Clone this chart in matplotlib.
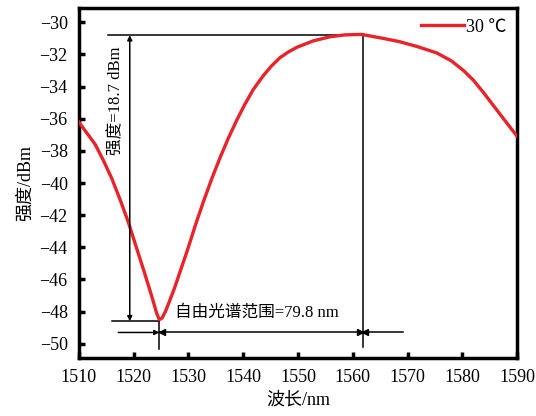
import numpy as np
import matplotlib
matplotlib.use("Agg")
import matplotlib.pyplot as plt

plt.rcParams['font.family'] = ['Liberation Serif', 'Noto Sans CJK SC', 'DejaVu Sans']
plt.rcParams['axes.unicode_minus'] = True

# spectrum (wavelength nm, power dBm)
wavelength = [1510, 1511.5, 1513, 1514.5, 1516, 1517.5, 1519, 1520.5, 1522, 1523,
              1523.7, 1524.2, 1524.7, 1525.2, 1525.8, 1526.5, 1527.4, 1528.3,
              1529.8, 1531.3, 1532.8, 1534.3, 1535.8, 1537.3, 1538.8, 1540.3,
              1541.8, 1543.7, 1545.2, 1546.7, 1548.2, 1549.8, 1552.8, 1555.8,
              1558.5, 1561.6, 1565.6, 1568.5, 1571.7, 1575.3, 1578, 1580.2,
              1582, 1583.8, 1585.7, 1587.5, 1590]
power = [-36.2, -36.9, -37.6, -38.6, -39.7, -41.0, -42.4, -44.0, -45.6, -46.7,
         -47.5, -48.1, -48.5, -48.4, -48.0, -47.4, -46.6, -45.7,
         -44.2, -42.6, -41.1, -39.7, -38.4, -37.2, -36.1, -35.1,
         -34.2, -33.3, -32.7, -32.2, -31.85, -31.55, -31.15, -30.9,
         -30.78, -30.75, -31.0, -31.2, -31.5, -31.9, -32.4, -33.0,
         -33.6, -34.35, -35.2, -36.0, -37.1]

x_ticks = [1510, 1520, 1530, 1540, 1550, 1560, 1570, 1580, 1590]
y_ticks = [-30, -32, -34, -36, -38, -40, -42, -44, -46, -48, -50]

dip_x, dip_y = 1524.7, -48.6
peak_x, peak_y = 1561.8, -30.8

fig = plt.figure(figsize=(5.36, 4.16), dpi=100)
ax = fig.add_axes([0.147, 0.139, 0.818, 0.842])

ax.plot(wavelength, power, color='#e8232a', lw=2.4, label='30 ℃', zorder=3,
        solid_joinstyle='round')

k = dict(color='black', lw=1.1)
# extinction ratio annotation
ax.plot([1515.3, peak_x], [peak_y, peak_y], **k)
ax.plot([1516.1, dip_x], [dip_y, dip_y], **k)
ax.annotate('', xy=(1519.3, peak_y), xytext=(1519.3, dip_y),
            arrowprops=dict(arrowstyle='<|-|>', color='black', lw=1.1,
                            mutation_scale=7, shrinkA=0, shrinkB=0))
ax.text(1516.9, -34.9, '强度=18.7 dBm', rotation=90, ha='center', va='center',
        fontsize=12)

# free spectral range annotation
ax.plot([dip_x, dip_x], [dip_y, -50.3], **k)
ax.plot([peak_x, peak_x], [peak_y, -50.2], **k)
fsr_y = -49.3
ax.annotate('', xy=(dip_x, fsr_y), xytext=(1517.2, fsr_y),
            arrowprops=dict(arrowstyle='-|>', color='black', lw=1.1,
                            mutation_scale=7, shrinkA=0, shrinkB=0))
ax.plot([dip_x, 1569.2], [fsr_y, fsr_y], **k)
ax.plot([dip_x + 0.5, peak_x + 0.5], [fsr_y, fsr_y], ls='none', marker='<',
        ms=4, color='black')
ax.plot([peak_x - 0.5], [fsr_y], ls='none', marker='>', ms=4, color='black')
ax.text(1527.6, -48.1, '自由光谱范围=79.8 nm', ha='left', va='center', fontsize=12)

ax.set_xlim(1510, 1590)
ax.set_ylim(-50.9, -29.1)
ax.set_xticks(x_ticks)
ax.set_yticks(y_ticks)
ax.tick_params(direction='in', length=4, width=2.5, labelsize=13, pad=8)
for s in ax.spines.values():
    s.set_linewidth(2.5)

ax.set_xlabel('波长/nm', fontsize=13, labelpad=4)
ax.set_ylabel('强度/dBm', fontsize=13, labelpad=4)

leg = ax.legend(loc='upper right', frameon=False, fontsize=13, handlelength=2.4,
                handletextpad=0.1, borderaxespad=0.2)

fig.savefig('out.png', dpi=100)
